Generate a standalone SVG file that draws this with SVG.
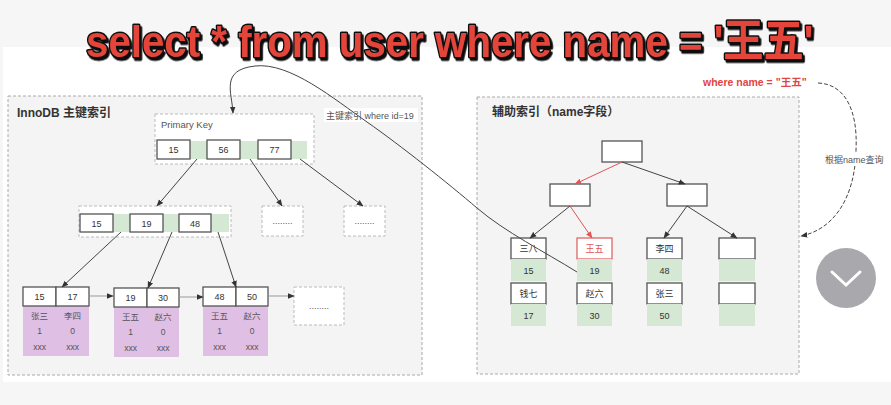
<svg xmlns="http://www.w3.org/2000/svg" width="891" height="405" viewBox="0 0 891 405">
<defs>
<style>
text{font-family:"Liberation Sans","Noto Sans CJK SC",sans-serif;fill:#333}
.t{font-size:9px;text-anchor:middle}
.p{font-size:8.5px;text-anchor:middle;fill:#555}
.panel{fill:#f4f4f4;stroke:#aaa;stroke-width:1;stroke-dasharray:3 2}
.dn{fill:#fff;stroke:#bbb;stroke-width:1;stroke-dasharray:3 2}
.k{fill:#fff;stroke:#555;stroke-width:1.3}
.g{fill:#d5e8d4}
.pu{fill:#e0bfe5}
.rk{fill:#fff;stroke:#e06666;stroke-width:1.3}
.c{fill:none;stroke:#444;stroke-width:1}
.cr{fill:none;stroke:#e05555;stroke-width:1}
.ch{fill:none;stroke:#999;stroke-width:1}
</style>
<filter id="sh" x="-10%" y="-50%" width="120%" height="200%">
<feDropShadow dx="2" dy="2.5" stdDeviation="0.3" flood-color="#111" flood-opacity="1"/>
</filter>
<marker id="ah" viewBox="0 0 10 10" refX="9" refY="5" markerWidth="7" markerHeight="7" orient="auto"><path d="M0,1 L10,5 L0,9 z" fill="#333"/></marker>
<marker id="ahr" viewBox="0 0 10 10" refX="9" refY="5" markerWidth="7" markerHeight="7" orient="auto"><path d="M0,1 L10,5 L0,9 z" fill="#e05555"/></marker>
</defs>
<rect x="0" y="0" width="891" height="405" fill="#f6f6f6"/>
<rect x="3" y="47" width="888" height="335" fill="#fff"/>

<g id="title" transform="translate(86,57) scale(0.895,1)">
<text x="0" y="0" font-size="45" font-weight="bold" filter="url(#sh)" style="fill:#e4453a;stroke:#111;stroke-width:3;stroke-linejoin:round;paint-order:stroke">select * from user where name = '王五'</text>
</g>

<g id="left-panel">
<rect class="panel" x="8" y="96" width="414" height="279"/>
<text x="17" y="117" font-size="12" font-weight="bold">InnoDB 主键索引</text>
</g>

<g id="right-panel">
<rect class="panel" x="477" y="97" width="322" height="277"/>
<text x="492" y="116" font-size="12" font-weight="bold">辅助索引（name字段）</text>
</g>

<g id="pk-root">
<rect class="dn" x="155" y="114" width="159" height="50"/>
<text x="161" y="128" font-size="9.5" style="fill:#555">Primary Key</text>
<rect class="g" x="157" y="141" width="150" height="18"/>
<rect class="k" x="157" y="140" width="33" height="19"/>
<rect class="k" x="207" y="140" width="33" height="19"/>
<rect class="k" x="258" y="140" width="33" height="19"/>
<text class="t" x="173.5" y="153">15</text>
<text class="t" x="223.5" y="153">56</text>
<text class="t" x="274.5" y="153">77</text>
</g>

<g id="pk-mid">
<rect class="dn" x="79" y="206" width="152" height="31"/>
<rect class="g" x="80" y="214" width="149" height="18"/>
<rect class="k" x="80" y="214" width="33" height="18"/>
<rect class="k" x="130" y="214" width="33" height="18"/>
<rect class="k" x="179" y="214" width="32" height="18"/>
<text class="t" x="96.5" y="226.5">15</text>
<text class="t" x="146.5" y="226.5">19</text>
<text class="t" x="195" y="226.5">48</text>
</g>

<g id="pk-more1">
<rect class="dn" x="262" y="206" width="41" height="30"/>
<text class="t" x="282.5" y="224" style="fill:#555">........</text>
</g>
<g id="pk-more2">
<rect class="dn" x="344" y="206" width="41" height="30"/>
<text class="t" x="364.5" y="224" style="fill:#555">........</text>
</g>

<g id="leaf1">
<rect class="pu" x="23" y="306" width="66" height="50"/>
<rect class="k" x="23" y="287" width="33" height="19"/>
<rect class="k" x="56" y="287" width="33" height="19"/>
<text class="t" x="39.5" y="300">15</text>
<text class="t" x="72.5" y="300">17</text>
<text class="p" x="39.5" y="319">张三</text>
<text class="p" x="72.5" y="319">李四</text>
<text class="p" x="39.5" y="334">1</text>
<text class="p" x="72.5" y="334">0</text>
<text class="p" x="39.5" y="350">xxx</text>
<text class="p" x="72.5" y="350">xxx</text>
</g>
<g id="leaf2">
<rect class="pu" x="114" y="307" width="65" height="50"/>
<rect class="k" x="114" y="288" width="33" height="19"/>
<rect class="k" x="147" y="288" width="32" height="19"/>
<text class="t" x="130.5" y="301">19</text>
<text class="t" x="163" y="301">30</text>
<text class="p" x="130.5" y="320">王五</text>
<text class="p" x="163" y="320">赵六</text>
<text class="p" x="130.5" y="335">1</text>
<text class="p" x="163" y="335">0</text>
<text class="p" x="130.5" y="351">xxx</text>
<text class="p" x="163" y="351">xxx</text>
</g>
<g id="leaf3">
<rect class="pu" x="203" y="306" width="65" height="50"/>
<rect class="k" x="203" y="287" width="33" height="19"/>
<rect class="k" x="236" y="287" width="32" height="19"/>
<text class="t" x="219.5" y="300">48</text>
<text class="t" x="252" y="300">50</text>
<text class="p" x="219.5" y="319">王五</text>
<text class="p" x="252" y="319">赵六</text>
<text class="p" x="219.5" y="334">1</text>
<text class="p" x="252" y="334">0</text>
<text class="p" x="219.5" y="350">xxx</text>
<text class="p" x="252" y="350">xxx</text>
</g>
<g id="leaf-more">
<rect class="dn" x="294" y="287" width="50" height="38"/>
<text class="t" x="319" y="309" style="fill:#555">........</text>
</g>

<g id="label-pk">
<rect x="324" y="108" width="94" height="14" fill="#fff"/>
<text x="326" y="119" font-size="9" style="fill:#555">主键索引 where id=19</text>
</g>

<g id="sec-root"><rect class="k" x="602" y="141" width="40" height="21"/></g>
<g id="sec-l"><rect class="k" x="550" y="184" width="40" height="22"/></g>
<g id="sec-r"><rect class="k" x="667" y="184" width="40" height="22"/></g>

<g id="sec-leaf1">
<rect class="k" x="511" y="238" width="35" height="21"/>
<rect class="g" x="511" y="259" width="35" height="22"/>
<rect class="k" x="511" y="283" width="35" height="21"/>
<rect class="g" x="511" y="304" width="35" height="22"/>
<text class="t" x="528.5" y="252">三八</text>
<text class="t" x="528.5" y="274">15</text>
<text class="t" x="528.5" y="297">钱七</text>
<text class="t" x="528.5" y="319">17</text>
</g>
<g id="sec-leaf2">
<rect class="rk" x="577" y="238" width="35" height="21"/>
<rect class="g" x="577" y="259" width="35" height="22"/>
<rect class="k" x="577" y="283" width="35" height="21"/>
<rect class="g" x="577" y="304" width="35" height="22"/>
<text class="t" x="594.5" y="252" style="fill:#e05555">王五</text>
<text class="t" x="594.5" y="274">19</text>
<text class="t" x="594.5" y="297">赵六</text>
<text class="t" x="594.5" y="319">30</text>
</g>
<g id="sec-leaf3">
<rect class="k" x="647" y="238" width="35" height="21"/>
<rect class="g" x="647" y="259" width="35" height="22"/>
<rect class="k" x="647" y="283" width="35" height="21"/>
<rect class="g" x="647" y="304" width="35" height="22"/>
<text class="t" x="664.5" y="252">李四</text>
<text class="t" x="664.5" y="274">48</text>
<text class="t" x="664.5" y="297">张三</text>
<text class="t" x="664.5" y="319">50</text>
</g>
<g id="sec-leaf4">
<rect class="k" x="719" y="238" width="36" height="21"/>
<rect class="g" x="719" y="259" width="36" height="22"/>
<rect class="k" x="719" y="283" width="36" height="21"/>
<rect class="g" x="719" y="304" width="36" height="22"/>
</g>

<g id="connectors">
<line class="c" x1="197" y1="159" x2="157" y2="206" marker-end="url(#ah)"/>
<line class="c" x1="250" y1="159" x2="282" y2="206" marker-end="url(#ah)"/>
<line class="c" x1="300" y1="159" x2="363" y2="206" marker-end="url(#ah)"/>
<line class="c" x1="121" y1="232" x2="62" y2="287" marker-end="url(#ah)"/>
<line class="c" x1="172" y1="232" x2="148" y2="288" marker-end="url(#ah)"/>
<line class="c" x1="218" y1="232" x2="236" y2="287" marker-end="url(#ah)"/>
<line class="ch" x1="89" y1="296" x2="113" y2="296" marker-end="url(#ah)"/>
<line class="ch" x1="179" y1="297" x2="203" y2="297" marker-end="url(#ah)"/>
<line class="ch" x1="268" y1="296" x2="294" y2="296" marker-end="url(#ah)"/>
<line class="cr" x1="622" y1="162" x2="575" y2="184" marker-end="url(#ahr)"/>
<line class="c" x1="622" y1="162" x2="685" y2="184" marker-end="url(#ah)"/>
<line class="c" x1="570" y1="206" x2="530" y2="238" marker-end="url(#ah)"/>
<line class="cr" x1="570" y1="206" x2="592" y2="238" marker-end="url(#ahr)"/>
<line class="c" x1="687" y1="206" x2="664" y2="238" marker-end="url(#ah)"/>
<line class="c" x1="687" y1="206" x2="737" y2="238" marker-end="url(#ah)"/>
<path class="c" d="M577,272 C545,252 505,232 477,208 S400,145 367,122 S290,62 255,66 S232,92 233,113" marker-end="url(#ah)"/>
<path class="c" stroke-dasharray="4 2" d="M818,83 C845,84 858,110 856,150 C855,200 832,230 801,236" marker-end="url(#ah)"/>
</g>

<g id="label-name">
<text x="703" y="86" font-size="10.5" font-weight="bold" style="fill:#e04444">where name = "王五"</text>
<rect x="824" y="153" width="62" height="13" fill="#fff"/>
<text x="825" y="163" font-size="9" style="fill:#555">根据name查询</text>
</g>

<g id="scroll-button">
<circle cx="846" cy="278" r="30" fill="#a9a9ad"/>
<polyline points="832,272 846,285 860,272" fill="none" stroke="#fff" stroke-width="3" stroke-linecap="round"/>
</g>
</svg>
